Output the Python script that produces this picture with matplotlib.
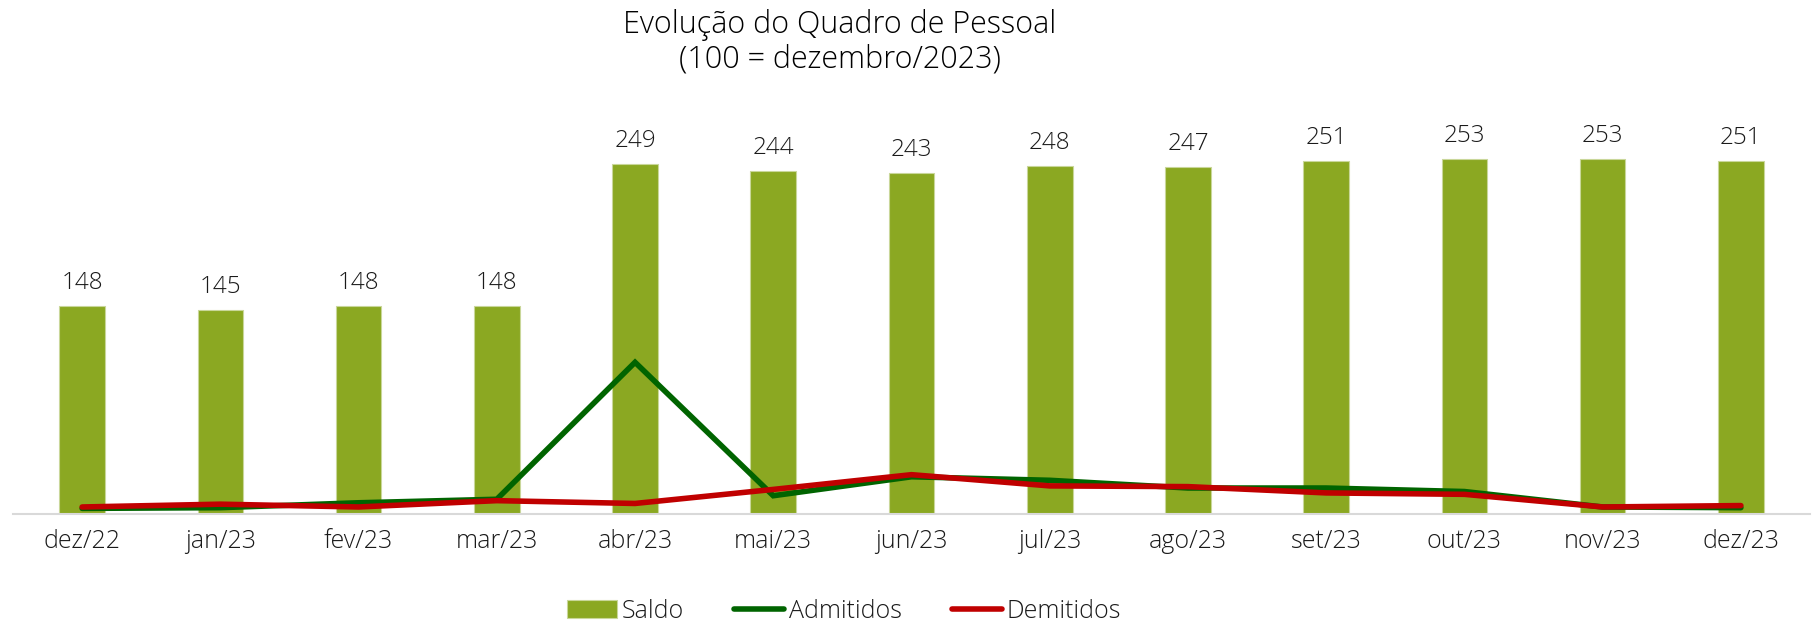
"""Evolucao do quadro de pessoal: saldo em barras, admitidos e demitidos em linhas"""

import numpy as np
import matplotlib.pyplot as plt

plt.rcParams['font.family'] = ['Open Sans', 'DejaVu Sans']
plt.rcParams['font.weight'] = 'light'

meses = ["dez/22", "jan/23", "fev/23", "mar/23", "abr/23", "mai/23", "jun/23",
         "jul/23", "ago/23", "set/23", "out/23", "nov/23", "dez/23"]
saldo = [148, 145, 148, 148, 249, 244, 243, 248, 247, 251, 253, 253, 251]
admitidos = [4, 4.5, 8, 10.5, 108, 13, 26.5, 24, 18.5, 18.5, 16, 5, 4.5]
demitidos = [5, 7, 5, 9.5, 7.5, 17.5, 28, 20, 19.5, 15, 14, 5, 6]


def plotter():
    """Desenha e grava o grafico"""
    x = np.arange(len(meses))
    fig = plt.figure(figsize=(18.13, 6.23), dpi=100)
    ax = fig.add_axes([13 / 1813, 109 / 623, 1797 / 1813, 420 / 623])

    bars = ax.bar(x, saldo, width=0.33, color="#8BA822", edgecolor="#C9D79A",
                  linewidth=0.8, label="Saldo", zorder=2)
    ax.plot(x, admitidos, color="#006400", lw=4, solid_capstyle="round",
            solid_joinstyle="miter", label="Admitidos", zorder=3)
    ax.plot(x, demitidos, color="#C00000", lw=4, solid_capstyle="round",
            solid_joinstyle="miter", label="Demitidos", zorder=4)

    for rect, v in zip(bars, saldo):
        ax.annotate(str(v), (rect.get_x() + rect.get_width() / 2, v),
                    xytext=(0, 8), textcoords="offset points",
                    ha="center", va="bottom", fontsize=17.5, color="#1a1a1a")

    ax.set_xlim(-0.5, len(meses) - 0.5)
    ax.set_ylim(0, 299)
    ax.set_xticks(x)
    ax.set_xticklabels(meses, fontsize=18, color="#1a1a1a")
    ax.set_yticks([])
    ax.tick_params(axis="x", length=0, pad=11)
    for side in ["top", "right", "left"]:
        ax.spines[side].set_visible(False)
    ax.spines["bottom"].set_color("#D9D9D9")
    ax.spines["bottom"].set_linewidth(1.5)

    fig.text(840 / 1813, 1 - 42 / 623,
             "Evolução do Quadro de Pessoal\n(100 = dezembro/2023)",
             ha="center", va="center", fontsize=22, linespacing=1.1,
             color="black")

    handles, labels = ax.get_legend_handles_labels()
    order = [labels.index(n) for n in ["Saldo", "Admitidos", "Demitidos"]]
    fig.legend([handles[i] for i in order], [labels[i] for i in order],
               loc="center", bbox_to_anchor=(844 / 1813, 1 - 611 / 623),
               ncol=3, frameon=False, fontsize=18, handlelength=2.0,
               handletextpad=0.2, columnspacing=2.0, labelcolor="#1a1a1a")

    plt.savefig("out.png", dpi=100)


def main():
    """Main function"""
    plotter()


if __name__ == '__main__':
    main()
